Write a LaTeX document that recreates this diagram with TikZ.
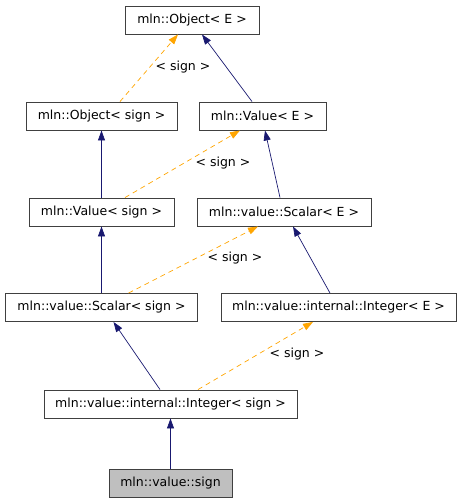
\documentclass[tikz,border=0pt]{standalone}
\usepackage{fontspec}
\setmainfont{DejaVu Sans}
\usepackage{xcolor}
\usetikzlibrary{arrows.meta}

\definecolor{inhblue}{HTML}{191970}
\definecolor{tplorange}{HTML}{FFA500}
\definecolor{boxgray}{HTML}{BFBFBF}

\tikzset{
    cls/.style={draw=black!75, line width=0.9pt, fill=white, minimum height=28pt,
                inner sep=0pt, font=\fontsize{12.5}{14}\selectfont},
    inh/.style={draw=inhblue, line width=0.7pt,
                -{Triangle[length=10pt,width=7pt,fill=inhblue]}},
    tpl/.style={draw=tplorange, line width=0.7pt, dash pattern=on 5pt off 4pt,
                -{Triangle[length=10pt,width=7pt,fill=tplorange]}},
    lbl/.style={font=\fontsize{12.5}{14}\selectfont, inner sep=1pt}
}

\begin{document}
\begin{tikzpicture}[x=1pt, y=-1pt]
    \useasboundingbox (0,0) rectangle (461,504);

    % Classes
    \node[cls, minimum width=134pt] (objE) at (192,20)    {mln::Object< E >};
    \node[cls, minimum width=151pt] (objS) at (101.5,116) {mln::Object< sign >};
    \node[cls, minimum width=127pt] (valE) at (262.5,116) {mln::Value< E >};
    \node[cls, minimum width=145pt] (valS) at (101.5,212) {mln::Value< sign >};
    \node[cls, minimum width=174pt] (scaE) at (284,212)   {mln::value::Scalar< E >};
    \node[cls, minimum width=192pt] (scaS) at (101.5,307.5) {mln::value::Scalar< sign >};
    \node[cls, minimum width=235pt] (intE) at (338.5,307.5) {mln::value::internal::Integer< E >};
    \node[cls, minimum width=253pt] (intS) at (170.5,404) {mln::value::internal::Integer< sign >};
    \node[cls, minimum width=123pt, fill=boxgray] (sign) at (170.5,483.5) {mln::value::sign};

    % Inheritance (child -> parent)
    \foreach \a/\da/\b/\db in {valE/-10.5/objE/10, valS/0/objS/0, scaE/-4/valE/2.5,
                              scaS/0/valS/0, intE/-8.5/scaE/9, intS/-10.5/scaS/12,
                              sign/0/intS/0} {
        \draw[inh] ([xshift=\da pt]\a.north) -- ([xshift=\db pt]\b.south);
    }

    % Template instances
    \foreach \a/\da/\b/\db in {objS/18.5/objE/-14, valS/23.5/valE/-22.5,
                              scaS/27/scaE/-26, intS/27.5/intE/-25.5} {
        \draw[tpl] ([xshift=\da pt]\a.north) -- ([xshift=\db pt]\b.south);
    }

    % Labels
    \node[lbl] (lblObj) at (183,67)  {< sign >};
    \node[lbl] (lblVal) at (223,163) {< sign >};
    \node[lbl] (lblSca) at (235,258) {< sign >};
    \node[lbl] (lblInt) at (297,354) {< sign >};
\end{tikzpicture}
\end{document}
